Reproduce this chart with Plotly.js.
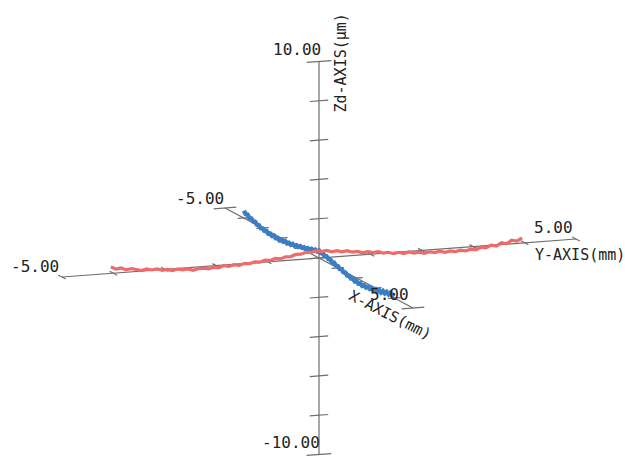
<!DOCTYPE html>
<html><head><meta charset="utf-8">
<script src="https://cdn.plot.ly/plotly-3.0.1.min.js"></script>
<style>html,body{margin:0;padding:0;background:#fff}</style>
</head><body><div id="chart" style="width:625px;height:459px"></div>
<script>
// ---- data (Y-AXIS scan, red) : Y in mm, Zd in µm
const redY = [-4.05,-3.95,-3.85,-3.75,-3.65,-3.55,-3.45,-3.35,-3.25,-3.15,-3.05,-2.95,-2.85,-2.75,-2.65,-2.55,-2.45,-2.35,-2.25,-2.15,-2.05,-1.95,-1.85,-1.75,-1.65,-1.55,-1.45,-1.35,-1.25,-1.15,-1.05,-0.95,-0.85,-0.75,-0.65,-0.55,-0.45,-0.35,-0.25,-0.15,-0.05,0.05,0.15,0.25,0.35,0.45,0.55,0.65,0.75,0.85,0.95,1.05,1.15,1.25,1.35,1.45,1.55,1.65,1.75,1.85,1.95,2.05,2.15,2.25,2.35,2.45,2.55,2.65,2.75,2.85,2.95,3.05,3.15,3.25,3.35,3.45,3.55,3.65,3.75,3.85,3.95];
const redZ = [0.32,0.20,0.24,0.12,0.17,0.12,0.03,0.09,0.02,0.06,-0.04,-0.01,-0.09,-0.03,-0.09,-0.06,-0.15,-0.09,-0.08,-0.14,-0.07,-0.12,-0.03,-0.09,-0.02,-0.08,0.01,-0.03,0.04,0.01,0.09,0.06,0.14,0.10,0.19,0.18,0.27,0.26,0.34,0.31,0.38,0.32,0.36,0.27,0.31,0.23,0.27,0.17,0.19,0.10,0.14,0.07,0.10,0.01,0.03,-0.06,-0.01,-0.09,-0.03,-0.11,-0.08,-0.16,-0.10,-0.16,-0.11,-0.19,-0.13,-0.19,-0.13,-0.19,-0.12,-0.17,-0.06,-0.11,0.01,-0.06,0.09,0.02,0.18,0.12,0.26];
// ---- data (X-AXIS scan, blue) : X in mm, Zd in µm
const blueX = [-4.0,-3.9,-3.8,-3.7,-3.6,-3.5,-3.4,-3.3,-3.2,-3.1,-3.0,-2.9,-2.8,-2.7,-2.6,-2.5,-2.4,-2.3,-2.2,-2.1,-2.0,-1.9,-1.8,-1.7,-1.6,-1.5,-1.4,-1.3,-1.2,-1.1,-1.0,-0.9,-0.8,-0.7,-0.6,-0.5,-0.4,-0.3,-0.2,-0.1,0.0,0.1,0.2,0.3,0.4,0.5,0.6,0.7,0.8,0.9,1.0,1.1,1.2,1.3,1.4,1.5,1.6,1.7,1.8,1.9,2.0,2.1,2.2,2.3,2.4,2.5,2.6,2.7,2.8,2.9,3.0,3.1,3.2,3.3,3.4,3.5,3.6,3.7,3.8,3.9,4.0];
const blueZ = [0.37,0.25,0.27,0.15,0.18,0.08,0.11,0.01,0.04,-0.06,-0.02,-0.09,-0.05,-0.14,-0.08,-0.15,-0.08,-0.16,-0.11,-0.17,-0.09,-0.14,-0.06,-0.12,-0.04,-0.09,0.00,-0.04,0.04,0.01,0.10,0.06,0.14,0.10,0.20,0.17,0.26,0.23,0.32,0.29,0.38,0.30,0.34,0.25,0.29,0.20,0.23,0.13,0.17,0.08,0.10,0.00,0.04,-0.06,-0.03,-0.13,-0.09,-0.18,-0.13,-0.22,-0.16,-0.24,-0.17,-0.25,-0.17,-0.23,-0.14,-0.20,-0.10,-0.16,-0.06,-0.13,-0.01,-0.08,0.05,-0.02,0.11,0.04,0.17,0.10,0.21];
// ---- axes
const xTicks = [-5,-4,-3,-2,-1,0,1,2,3,4,5];
const yTicks = [-5,-4,-3,-2,-1,0,1,2,3,4,5];
const zTicks = [-10,-8,-6,-4,-2,0,2,4,6,8,10];
const xEndLabels = ["-5.00","5.00"];
const yEndLabels = ["-5.00","5.00"];
const zEndLabels = ["-10.00","10.00"];
const xTitle = "X-AXIS(mm)", yTitle = "Y-AXIS(mm)", zTitle = "Zd-AXIS(μm)";

// ---- oblique projection (layout)
const O=[319,258], EX=[18.8,10], EY=[51.4,-3.8], EZ=[0,-19.65];
function P(x,y,z){return [O[0]+EX[0]*x+EY[0]*y+EZ[0]*z, O[1]+EX[1]*x+EY[1]*y+EZ[1]*z];}
function seg(arr,a,b){arr.x.push(a[0],b[0],null);arr.y.push(a[1],b[1],null);}

const ax={x:[],y:[]};
seg(ax,P(xTicks[0],0,0),P(xTicks[xTicks.length-1],0,0));
seg(ax,P(0,yTicks[0],0),P(0,yTicks[yTicks.length-1],0));
seg(ax,P(0,0,zTicks[0]),P(0,0,zTicks[zTicks.length-1]));
const tk={x:[],y:[]};
zTicks.forEach((z,i)=>{const t=(i==0||i==zTicks.length-1)?0.24:0.18; seg(tk,P(0,-t,z),P(0,t,z));});
xTicks.forEach((x,i)=>{if(x===0)return; const t=(i==0||i==xTicks.length-1)?0.22:0.12; seg(tk,P(x,-t,0),P(x,t,0));});
yTicks.forEach((y,i)=>{if(y===0)return; seg(tk,P(-0.2,y,0),P(0.2,y,0));});

const red={x:[],y:[]}; redY.forEach((y,i)=>{const p=P(0,y,redZ[i]);red.x.push(p[0]);red.y.push(p[1]);});
const blue={x:[],y:[]}; blueX.forEach((x,i)=>{const p=P(x,0,blueZ[i]);blue.x.push(p[0]);blue.y.push(p[1]);});

const data=[
 {type:'scatter',mode:'lines',x:ax.x,y:ax.y,line:{color:'#6e6e6e',width:1.2},hoverinfo:'skip'},
 {type:'scatter',mode:'lines',x:tk.x,y:tk.y,line:{color:'#6e6e6e',width:1.2},hoverinfo:'skip'},
 {type:'scatter',mode:'lines',x:blue.x,y:blue.y,line:{color:'#3a7fc4',width:4.5},hoverinfo:'skip'},
 {type:'scatter',mode:'lines',x:red.x,y:red.y,line:{color:'#f06a6a',width:3.2},hoverinfo:'skip'}
];
const F={family:'DejaVu Sans Mono',size:16,color:'#222'};
const FT={family:'DejaVu Sans Mono',size:15,color:'#222'};
function A(p,dx,dy,text,xa,font,ang){return {x:p[0]+dx,y:p[1]+dy,text:text,showarrow:false,xanchor:xa,yanchor:'middle',font:font,textangle:ang||0};}
const zt=P(0,0,zTicks[zTicks.length-1]), zb=P(0,0,zTicks[0]);
const xl=P(xTicks[0],0,0), xr=P(xTicks[xTicks.length-1],0,0);
const yl=P(0,yTicks[0],0), yr=P(0,yTicks[yTicks.length-1],0);
const annotations=[
 A(zt,4,-12,zEndLabels[1],'right',F),
 A(zb,3,-12,zEndLabels[0],'right',F),
 A(zt,21,2,zTitle,'center',FT,-90),
 A(yl,-1,-11,yEndLabels[0],'right',F),
 A(yr,-1,-12,yEndLabels[1],'right',F),
 A(yr,-43,16,yTitle,'left',FT),
 A(xl,1,-10,xEndLabels[0],'right',F),
 A(xr,-2,-14,xEndLabels[1],'right',F),
 A(xr,-23,7,xTitle,'center',FT,27)
];
const layout={width:625,height:459,margin:{l:0,r:0,t:0,b:0},paper_bgcolor:'#fff',plot_bgcolor:'#fff',showlegend:false,
 xaxis:{range:[0,625],visible:false,fixedrange:true},
 yaxis:{range:[459,0],visible:false,fixedrange:true},
 annotations:annotations};
Plotly.newPlot('chart',data,layout,{staticPlot:true,displayModeBar:false});
</script></body></html>
